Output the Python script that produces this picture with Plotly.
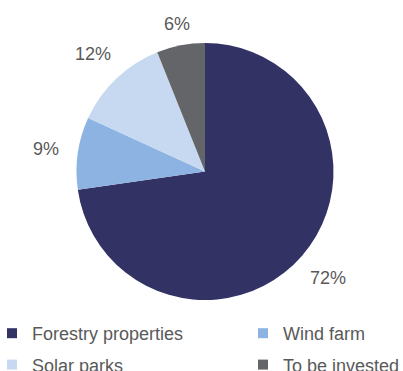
import math
import plotly.graph_objects as go

labels = ["Forestry properties", "Wind farm", "Solar parks", "To be invested"]
values = [72, 9, 12, 6]
colors = ["#323264", "#8DB3E2", "#C6D9F1", "#646568"]
legend_ids = ["legend", "legend2", "legend", "legend2"]

W, H = 403, 371
dom_x = [0.0174, 1.0]
dom_y = [0.1914, 0.8841]
LABEL_SIZE = 18

fig = go.Figure(go.Pie(
    labels=labels,
    values=values,
    sort=False,
    direction="clockwise",
    rotation=0,
    marker=dict(colors=colors, line=dict(width=0)),
    textinfo="none",
    domain=dict(x=dom_x, y=dom_y),
    showlegend=False,
    hoverinfo="label+value",
))

# outside percentage labels, placed at each slice's mid-angle
cx = W * (dom_x[0] + dom_x[1]) / 2
cy = H * (1 - (dom_y[0] + dom_y[1]) / 2)
R = min(W * (dom_x[1] - dom_x[0]), H * (dom_y[1] - dom_y[0])) / 2
total = sum(values)
cum = 0
for v in values:
    mid = math.radians((cum + v / 2) / total * 360)
    cum += v
    txt = f"{v}%"
    w_est = (0.556 * (len(txt) - 1) + 0.889) * LABEL_SIZE
    h_est = 0.72 * LABEL_SIZE
    s, c = abs(math.sin(mid)), abs(math.cos(mid))
    ext = s * w_est / 2 + c * h_est / 2
    r = R + 12 + 6 * s + ext
    px = cx + r * math.sin(mid)
    py = cy - r * math.cos(mid)
    fig.add_annotation(
        x=px / W, y=1 - py / H, xref="paper", yref="paper",
        text=txt, showarrow=False, xanchor="center", yanchor="middle",
        font=dict(family="Liberation Sans, Arial", size=LABEL_SIZE, color="#595959"),
    )

# legend entries in two columns
for lab, col, lg in zip(labels, colors, legend_ids):
    fig.add_trace(go.Scatter(
        x=[None], y=[None], mode="markers", name=lab,
        marker=dict(symbol="square", size=10, color=col),
        legend=lg, legendgroup=lab, hoverinfo="skip",
    ))

leg_common = dict(
    orientation="v", yanchor="top", y=1 - 315 / H, xanchor="left",
    font=dict(family="Liberation Sans, Arial", size=18, color="#595959"),
    itemclick=False, itemdoubleclick=False, tracegroupgap=5,
    bgcolor="rgba(0,0,0,0)",
)

fig.update_layout(
    width=W, height=H,
    margin=dict(l=0, r=0, t=0, b=0, autoexpand=False),
    paper_bgcolor="white",
    plot_bgcolor="white",
    font=dict(family="Liberation Sans, Arial", color="#595959"),
    xaxis=dict(visible=False),
    yaxis=dict(visible=False),
    legend=dict(x=-8 / W, **leg_common),
    legend2=dict(x=243 / W, **leg_common),
)

fig.write_html("out.html", config={"displayModeBar": False},
               post_script="document.body.style.margin='0';")
